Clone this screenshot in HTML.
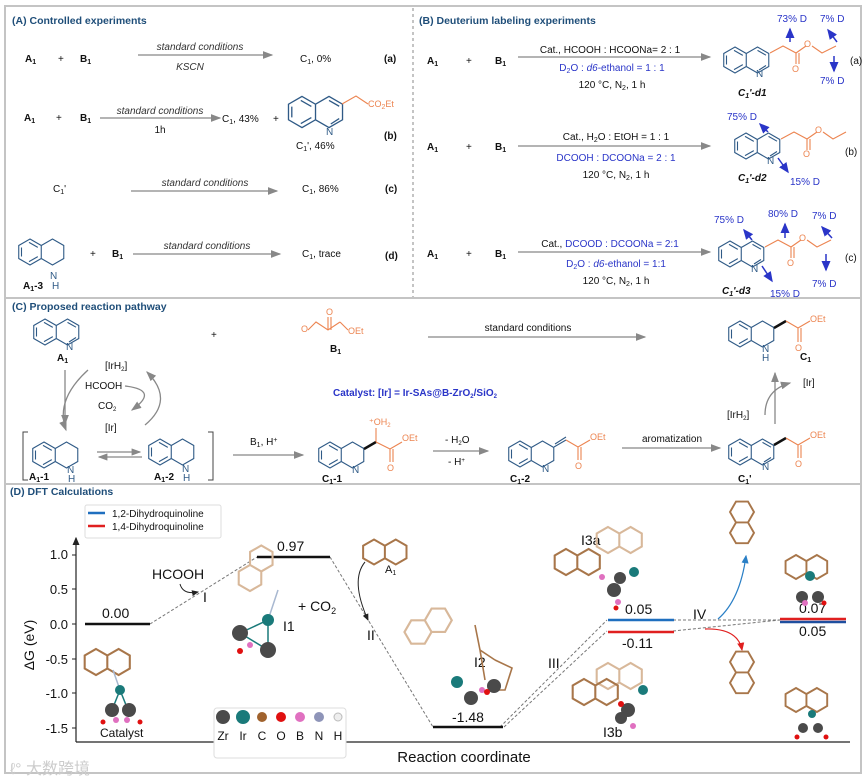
<!DOCTYPE html>
<html><head><meta charset="utf-8"><style>
html,body{margin:0;padding:0;background:#fff;}
svg{display:block;font-family:"Liberation Sans",Arial,sans-serif;}
.t{font-size:10px;fill:#111}
.tb{font-size:10px;fill:#111;font-weight:bold}
.ti{font-size:10px;fill:#333;font-style:italic}
.h{font-size:10.5px;font-weight:bold;fill:#1f4e79}
.bl{font-size:10px;fill:#2a35c8}
.or{font-size:9px;fill:#ec8450}
.st{fill:none;stroke:#2f5a86;stroke-width:1.1}
.so{fill:none;stroke:#ec8450;stroke-width:1.1}
.ar{stroke:#888;stroke-width:1.3;fill:none}
.br{fill:none;stroke:#a8764a;stroke-width:1.6}
.brl{fill:none;stroke:#d8b89a;stroke-width:1.6}
</style></head><body>
<svg width="868" height="779" viewBox="0 0 868 779" xmlns="http://www.w3.org/2000/svg">
<defs>
<marker id="ah" markerWidth="8" markerHeight="6" refX="7" refY="3" orient="auto"><path d="M0,0 L8,3 L0,6Z" fill="#888"/></marker>
<marker id="ahb" markerWidth="7" markerHeight="6" refX="6" refY="3" orient="auto"><path d="M0,0 L7,3 L0,6Z" fill="#2a35c8"/></marker>
<marker id="ahk" markerWidth="7" markerHeight="6" refX="6" refY="3" orient="auto"><path d="M0,0 L7,3 L0,6Z" fill="#222"/></marker>
<marker id="ahl" markerWidth="7" markerHeight="6" refX="6" refY="3" orient="auto"><path d="M0,0 L7,3 L0,6Z" fill="#2a7fc6"/></marker>
<marker id="ahr" markerWidth="7" markerHeight="6" refX="6" refY="3" orient="auto"><path d="M0,0 L7,3 L0,6Z" fill="#e02020"/></marker>
<g id="q"><path d="M0,-13 L11.26,-6.5 L11.26,6.5 L0,13 L-11.26,6.5 L-11.26,-6.5Z M11.26,-6.5 L22.5,-13 L33.77,-6.5 L33.77,6.5 L22.5,13 L11.26,6.5 M-8.5,-4.5 L-8.5,4.5 M-1,-9.6 L7.8,-4.6 M-1,9.6 L7.8,4.6 M22.5,-9.6 L31,-4.8 M24,10 L31,5.5"/></g>
<g id="thq"><path d="M0,-13 L11.26,-6.5 L11.26,6.5 L0,13 L-11.26,6.5 L-11.26,-6.5Z M11.26,-6.5 L22.5,-13 L33.77,-6.5 L33.77,6.5 L22.5,13 L11.26,6.5 M-8.5,-4.5 L-8.5,4.5 M-1,-9.6 L7.8,-4.6 M-1,9.6 L7.8,4.6"/></g>
<g id="mq"><path d="M0,-10 L8.7,-5 L8.7,5 L0,10 L-8.7,5 L-8.7,-5Z M8.7,-5 L17.4,-10 L26,-5 L26,5 L17.4,10 L8.7,5"/></g>
</defs>
<rect x="5" y="6" width="856" height="767" fill="none" stroke="#c4c4c4" stroke-width="2"/>
<line x1="5" y1="298" x2="861" y2="298" stroke="#c4c4c4" stroke-width="2"/>
<line x1="5" y1="484" x2="861" y2="484" stroke="#c4c4c4" stroke-width="2"/>
<line x1="413" y1="8" x2="413" y2="297" stroke="#888" stroke-width="1" stroke-dasharray="3,3"/>

<!-- Panel A -->
<text x="12" y="24" class="h">(A)  Controlled experiments</text>
<text x="25" y="62" class="tb">A<tspan font-size="7" dy="2">1</tspan></text>
<text x="58" y="62" class="t">+</text>
<text x="80" y="62" class="tb">B<tspan font-size="7" dy="2">1</tspan></text>
<line x1="138" y1="55" x2="272" y2="55" class="ar" marker-end="url(#ah)"/>
<text x="200" y="50" class="ti" text-anchor="middle">standard conditions</text>
<text x="190" y="70" class="ti" text-anchor="middle">KSCN</text>
<text x="300" y="62" class="t">C<tspan font-size="7" dy="2">1</tspan><tspan dy="-2">, 0%</tspan></text>
<text x="384" y="62" class="tb">(a)</text>

<text x="24" y="121" class="tb">A<tspan font-size="7" dy="2">1</tspan></text>
<text x="56" y="121" class="t">+</text>
<text x="80" y="121" class="tb">B<tspan font-size="7" dy="2">1</tspan></text>
<line x1="100" y1="118" x2="220" y2="118" class="ar" marker-end="url(#ah)"/>
<text x="160" y="114" class="ti" text-anchor="middle">standard conditions</text>
<text x="160" y="133" class="t" text-anchor="middle">1h</text>
<text x="222" y="122" class="t">C<tspan font-size="7" dy="2">1</tspan><tspan dy="-2">, 43%</tspan></text>
<text x="273" y="122" class="t">+</text>
<use href="#q" transform="translate(302,112) scale(1.2)" class="st"/>
<text x="326" y="135" class="t" style="fill:#2f5a86">N</text>
<path d="M342,104 L356,96 L368,104" class="so"/>
<text x="368" y="107" class="or" font-size="10">CO<tspan font-size="7" dy="2">2</tspan><tspan dy="-2">Et</tspan></text>
<text x="296" y="149" class="t">C<tspan font-size="7" dy="2">1</tspan><tspan dy="-2">', 46%</tspan></text>
<text x="384" y="139" class="tb">(b)</text>

<text x="53" y="192" class="t">C<tspan font-size="7" dy="2">1</tspan><tspan dy="-2">'</tspan></text>
<line x1="131" y1="191" x2="277" y2="191" class="ar" marker-end="url(#ah)"/>
<text x="205" y="186" class="ti" text-anchor="middle">standard conditions</text>
<text x="302" y="192" class="t">C<tspan font-size="7" dy="2">1</tspan><tspan dy="-2">, 86%</tspan></text>
<text x="385" y="192" class="tb">(c)</text>

<use href="#thq" transform="translate(30,252)" class="st"/>
<text x="50" y="279" class="t" style="fill:#2f5a86">N</text>
<text x="52" y="289" class="t" style="fill:#2f5a86">H</text>
<text x="23" y="289" class="tb">A<tspan font-size="7" dy="2">1</tspan><tspan dy="-2">-3</tspan></text>
<text x="90" y="257" class="t">+</text>
<text x="112" y="257" class="tb">B<tspan font-size="7" dy="2">1</tspan></text>
<line x1="133" y1="254" x2="280" y2="254" class="ar" marker-end="url(#ah)"/>
<text x="207" y="249" class="ti" text-anchor="middle">standard conditions</text>
<text x="302" y="257" class="t">C<tspan font-size="7" dy="2">1</tspan><tspan dy="-2">, trace</tspan></text>
<text x="385" y="259" class="tb">(d)</text>

<!-- Panel B -->
<text x="419" y="24" class="h">(B) Deuterium labeling experiments</text>
<g font-size="11">
<text x="427" y="64" class="tb">A<tspan font-size="7" dy="2">1</tspan></text>
<text x="466" y="64" class="t">+</text>
<text x="495" y="64" class="tb">B<tspan font-size="7" dy="2">1</tspan></text>
<line x1="518" y1="57" x2="710" y2="57" class="ar" marker-end="url(#ah)"/>
<text x="610" y="53" class="t" font-size="11" text-anchor="middle">Cat., HCOOH : HCOONa= 2 : 1</text>
<text x="612" y="71" class="bl" font-size="11" text-anchor="middle">D<tspan font-size="7" dy="2">2</tspan><tspan dy="-2">O : </tspan><tspan font-style="italic">d6</tspan>-ethanol = 1 : 1</text>
<text x="612" y="88" class="t" font-size="11" text-anchor="middle">120 °C, N<tspan font-size="7" dy="2">2</tspan><tspan dy="-2">, 1 h</tspan></text>
<use href="#q" transform="translate(735,60)" class="st"/>
<text x="756" y="77" class="t" style="fill:#2f5a86">N</text>
<path d="M770,53 L783,46 L796,53 L796,64 M799,53 L799,64 M796,53 L806,46 M812,46 L822,53 L836,46" class="so"/>
<text x="792" y="72" class="or">O</text><text x="804" y="47" class="or">O</text>
<text x="738" y="96" class="tb" font-style="italic">C<tspan font-size="7" dy="2">1</tspan><tspan dy="-2">'-d1</tspan></text>
<text x="777" y="22" class="bl">73% D</text><text x="820" y="22" class="bl">7% D</text>
<text x="820" y="84" class="bl">7% D</text>
<line x1="790" y1="42" x2="790" y2="29" stroke="#2a35c8" stroke-width="1.5" marker-end="url(#ahb)"/>
<line x1="837" y1="42" x2="828" y2="30" stroke="#2a35c8" stroke-width="1.5" marker-end="url(#ahb)"/>
<line x1="834" y1="56" x2="834" y2="71" stroke="#2a35c8" stroke-width="1.5" marker-end="url(#ahb)"/>
<text x="850" y="64" class="t">(a)</text>

<text x="427" y="150" class="tb">A<tspan font-size="7" dy="2">1</tspan></text>
<text x="466" y="150" class="t">+</text>
<text x="495" y="150" class="tb">B<tspan font-size="7" dy="2">1</tspan></text>
<line x1="518" y1="146" x2="710" y2="146" class="ar" marker-end="url(#ah)"/>
<text x="616" y="140" class="t" font-size="11" text-anchor="middle">Cat., H<tspan font-size="7" dy="2">2</tspan><tspan dy="-2">O : EtOH = 1 : 1</tspan></text>
<text x="616" y="161" class="bl" font-size="11" text-anchor="middle">DCOOH : DCOONa = 2 : 1</text>
<text x="616" y="178" class="t" font-size="11" text-anchor="middle">120 °C, N<tspan font-size="7" dy="2">2</tspan><tspan dy="-2">, 1 h</tspan></text>
<use href="#q" transform="translate(746,146)" class="st"/>
<text x="767" y="164" class="t" style="fill:#2f5a86">N</text>
<path d="M781,139 L794,132 L807,139 L807,150 M810,139 L810,150 M807,139 L817,132 M823,132 L833,139 L846,132" class="so"/>
<text x="803" y="157" class="or">O</text><text x="815" y="133" class="or">O</text>
<text x="738" y="181" class="tb" font-style="italic">C<tspan font-size="7" dy="2">1</tspan><tspan dy="-2">'-d2</tspan></text>
<text x="727" y="120" class="bl">75% D</text>
<text x="790" y="185" class="bl">15% D</text>
<line x1="768" y1="132" x2="760" y2="124" stroke="#2a35c8" stroke-width="1.5" marker-end="url(#ahb)"/>
<line x1="778" y1="158" x2="788" y2="172" stroke="#2a35c8" stroke-width="1.5" marker-end="url(#ahb)"/>
<text x="845" y="155" class="t">(b)</text>

<text x="427" y="257" class="tb">A<tspan font-size="7" dy="2">1</tspan></text>
<text x="466" y="257" class="t">+</text>
<text x="495" y="257" class="tb">B<tspan font-size="7" dy="2">1</tspan></text>
<line x1="518" y1="252" x2="710" y2="252" class="ar" marker-end="url(#ah)"/>
<text x="610" y="247" class="t" font-size="11" text-anchor="middle">Cat., <tspan fill="#2a35c8">DCOOD : DCOONa = 2:1</tspan></text>
<text x="616" y="267" class="bl" font-size="11" text-anchor="middle">D<tspan font-size="7" dy="2">2</tspan><tspan dy="-2">O : </tspan><tspan font-style="italic">d6</tspan>-ethanol = 1:1</text>
<text x="616" y="284" class="t" font-size="11" text-anchor="middle">120 °C, N<tspan font-size="7" dy="2">2</tspan><tspan dy="-2">, 1 h</tspan></text>
<use href="#q" transform="translate(730,254)" class="st"/>
<text x="751" y="272" class="t" style="fill:#2f5a86">N</text>
<path d="M765,247 L778,240 L791,247 L791,258 M794,247 L794,258 M791,247 L801,240 M807,240 L817,247 L831,240" class="so"/>
<text x="787" y="266" class="or">O</text><text x="799" y="241" class="or">O</text>
<text x="722" y="294" class="tb" font-style="italic">C<tspan font-size="7" dy="2">1</tspan><tspan dy="-2">'-d3</tspan></text>
<text x="714" y="223" class="bl">75% D</text><text x="768" y="217" class="bl">80% D</text><text x="812" y="219" class="bl">7% D</text>
<text x="770" y="297" class="bl">15% D</text><text x="812" y="287" class="bl">7% D</text>
<line x1="752" y1="240" x2="744" y2="230" stroke="#2a35c8" stroke-width="1.5" marker-end="url(#ahb)"/>
<line x1="785" y1="238" x2="785" y2="224" stroke="#2a35c8" stroke-width="1.5" marker-end="url(#ahb)"/>
<line x1="832" y1="238" x2="822" y2="227" stroke="#2a35c8" stroke-width="1.5" marker-end="url(#ahb)"/>
<line x1="762" y1="266" x2="772" y2="281" stroke="#2a35c8" stroke-width="1.5" marker-end="url(#ahb)"/>
<line x1="826" y1="254" x2="826" y2="270" stroke="#2a35c8" stroke-width="1.5" marker-end="url(#ahb)"/>
<text x="845" y="261" class="t">(c)</text>
</g>

<!-- Panel C -->
<text x="12" y="310" class="h">(C) Proposed reaction pathway</text>
<use href="#q" transform="translate(45,332)" class="st"/>
<text x="66" y="350" class="t" style="fill:#2f5a86">N</text>
<text x="57" y="361" class="tb">A<tspan font-size="7" dy="2">1</tspan></text>
<text x="211" y="338" class="t">+</text>
<path d="M308,330 L316,322 L328,330 L340,322 M328,330 L328,317 M331,330 L331,317 M340,322 L348,330" class="so"/>
<text x="301" y="332" class="or">O</text><text x="326" y="315" class="or">O</text><text x="348" y="334" class="or">OEt</text>
<text x="330" y="352" class="tb">B<tspan font-size="7" dy="2">1</tspan></text>
<line x1="428" y1="337" x2="645" y2="337" class="ar" marker-end="url(#ah)"/>
<text x="528" y="331" class="t" font-size="9.5" text-anchor="middle">standard conditions</text>
<use href="#thq" transform="translate(740,334)" class="st"/>
<text x="762" y="352" class="t" style="fill:#2f5a86">N</text><text x="762" y="361" class="t" style="fill:#2f5a86">H</text>
<path d="M774,328 L786,321" stroke="#111" stroke-width="2.5"/>
<path d="M786,321 L798,328 L810,321 M798,328 L798,342 M801,328 L801,342" class="so"/>
<text x="810" y="322" class="or">OEt</text><text x="795" y="351" class="or">O</text>
<text x="800" y="360" class="tb">C<tspan font-size="7" dy="2">1</tspan></text>
<text x="415" y="396" class="tb" style="fill:#2a35c8" font-size="9" text-anchor="middle">Catalyst: [Ir] = Ir-SAs@B-ZrO<tspan font-size="6" dy="2">2</tspan><tspan dy="-2">/SiO</tspan><tspan font-size="6" dy="2">2</tspan></text>
<text x="105" y="369" class="t" font-size="9">[IrH<tspan font-size="6" dy="2">2</tspan><tspan dy="-2">]</tspan></text>
<text x="85" y="389" class="t" font-size="9">HCOOH</text>
<text x="98" y="409" class="t" font-size="9">CO<tspan font-size="6" dy="2">2</tspan></text>
<text x="105" y="431" class="t" font-size="9">[Ir]</text>
<path d="M88,370 Q55,400 66,430" class="ar" marker-end="url(#ah)"/>
<path d="M65,370 L65,424" class="ar" marker-end="url(#ah)"/>
<path d="M145,425 Q175,400 147,372" class="ar" marker-end="url(#ah)"/>
<path d="M125,386 Q160,390 132,410" class="ar" marker-end="url(#ah)"/>
<path d="M28,432 L23,432 L23,480 L28,480 M208,432 L213,432 L213,480 L208,480" stroke="#444" fill="none"/>
<use href="#thq" transform="translate(44,455)" class="st"/>
<text x="67" y="473" class="t" style="fill:#2f5a86">N</text><text x="68" y="482" class="t" style="fill:#2f5a86">H</text>
<text x="29" y="480" class="tb">A<tspan font-size="7" dy="2">1</tspan><tspan dy="-2">-1</tspan></text>
<line x1="97" y1="452" x2="140" y2="452" stroke="#888" stroke-width="1.2" marker-end="url(#ah)"/>
<line x1="142" y1="457" x2="99" y2="457" stroke="#888" stroke-width="1.2" marker-end="url(#ah)"/>
<use href="#thq" transform="translate(160,452)" class="st"/>
<text x="182" y="472" class="t" style="fill:#2f5a86">N</text><text x="183" y="481" class="t" style="fill:#2f5a86">H</text>
<text x="154" y="480" class="tb">A<tspan font-size="7" dy="2">1</tspan><tspan dy="-2">-2</tspan></text>
<line x1="233" y1="455" x2="303" y2="455" class="ar" marker-end="url(#ah)"/>
<text x="250" y="445" class="t">B<tspan font-size="7" dy="2">1</tspan><tspan dy="-2">, H</tspan><tspan font-size="7" dy="-3">+</tspan></text>
<use href="#thq" transform="translate(330,455)" class="st"/>
<text x="352" y="473" class="t" style="fill:#2f5a86">N</text>
<path d="M364,449 L376,442" stroke="#111" stroke-width="2.5"/>
<path d="M376,442 L376,428 M376,442 L390,449 L402,442 M390,449 L390,462 M393,449 L393,462" class="so"/>
<text x="369" y="425" class="or">⁺OH<tspan font-size="6" dy="2">2</tspan></text>
<text x="402" y="441" class="or">OEt</text><text x="387" y="471" class="or">O</text>
<text x="322" y="482" class="tb">C<tspan font-size="7" dy="2">1</tspan><tspan dy="-2">-1</tspan></text>
<line x1="433" y1="451" x2="488" y2="451" class="ar" marker-end="url(#ah)"/>
<text x="445" y="443" class="t" font-size="9">- H<tspan font-size="6" dy="2">2</tspan><tspan dy="-2">O</tspan></text>
<text x="448" y="465" class="t" font-size="9">- H<tspan font-size="6" dy="-3">+</tspan></text>
<use href="#thq" transform="translate(520,454)" class="st"/>
<text x="542" y="472" class="t" style="fill:#2f5a86">N</text>
<path d="M554,447 L566,440 M555,444 L566,437" stroke="#2f5a86" stroke-width="1.1"/>
<path d="M566,440 L578,447 L590,440 M578,447 L578,460 M581,447 L581,460" class="so"/>
<text x="590" y="440" class="or">OEt</text><text x="575" y="469" class="or">O</text>
<text x="510" y="482" class="tb">C<tspan font-size="7" dy="2">1</tspan><tspan dy="-2">-2</tspan></text>
<line x1="622" y1="448" x2="720" y2="448" class="ar" marker-end="url(#ah)"/>
<text x="672" y="442" class="t" font-size="9" text-anchor="middle">aromatization</text>
<use href="#q" transform="translate(740,452)" class="st"/>
<text x="762" y="470" class="t" style="fill:#2f5a86">N</text>
<path d="M774,445 L786,438" stroke="#111" stroke-width="2.5"/>
<path d="M786,438 L798,445 L810,438 M798,445 L798,458 M801,445 L801,458" class="so"/>
<text x="810" y="438" class="or">OEt</text><text x="795" y="467" class="or">O</text>
<text x="738" y="482" class="tb">C<tspan font-size="7" dy="2">1</tspan><tspan dy="-2">'</tspan></text>
<line x1="775" y1="424" x2="775" y2="373" class="ar" marker-end="url(#ah)"/>
<path d="M765,415 Q765,390 790,383" class="ar" marker-end="url(#ah)"/>
<text x="727" y="418" class="t" font-size="9">[IrH<tspan font-size="6" dy="2">2</tspan><tspan dy="-2">]</tspan></text>
<text x="803" y="386" class="t" font-size="9">[Ir]</text>

<!-- Panel D -->
<text x="10" y="495" class="h" font-size="10">(D) DFT Calculations</text>
<rect x="85" y="505" width="136" height="33" rx="2" fill="#fff" stroke="#ddd"/>
<line x1="88" y1="513" x2="105" y2="513" stroke="#1f6fbf" stroke-width="2.5"/>
<line x1="88" y1="526" x2="105" y2="526" stroke="#e02020" stroke-width="2.5"/>
<text x="112" y="517" class="t" font-size="10">1,2-Dihydroquinoline</text>
<text x="112" y="530" class="t" font-size="10">1,4-Dihydroquinoline</text>
<line x1="76" y1="742" x2="76" y2="538" stroke="#222" stroke-width="1.2" marker-end="url(#ahk)"/>
<line x1="76" y1="742" x2="850" y2="742" stroke="#222" stroke-width="1.2"/>
<g font-size="13" fill="#111" text-anchor="end">
<text x="68" y="559">1.0</text><text x="68" y="594">0.5</text><text x="68" y="629">0.0</text>
<text x="68" y="664">-0.5</text><text x="68" y="698">-1.0</text><text x="68" y="733">-1.5</text>
</g>
<g stroke="#222"><line x1="72" y1="555" x2="76" y2="555"/><line x1="72" y1="589" x2="76" y2="589"/><line x1="72" y1="624" x2="76" y2="624"/><line x1="72" y1="659" x2="76" y2="659"/><line x1="72" y1="693" x2="76" y2="693"/><line x1="72" y1="728" x2="76" y2="728"/></g>
<text transform="translate(34,645) rotate(-90)" font-size="14" fill="#111" text-anchor="middle">ΔG (eV)</text>
<text x="464" y="762" font-size="15" fill="#111" text-anchor="middle">Reaction coordinate</text>
<g stroke="#777" stroke-width="1" stroke-dasharray="3,2" fill="none">
<line x1="150" y1="624" x2="257" y2="557"/><line x1="330" y1="557" x2="433" y2="727"/>
<line x1="500" y1="727" x2="607" y2="620"/><line x1="504" y1="727" x2="607" y2="631"/>
<line x1="673" y1="620" x2="780" y2="620"/><line x1="673" y1="631" x2="780" y2="620"/>
</g>
<g stroke-width="2.6">
<line x1="85" y1="624" x2="150" y2="624" stroke="#111"/>
<line x1="257" y1="557" x2="330" y2="557" stroke="#111"/>
<line x1="433" y1="727" x2="503" y2="727" stroke="#111"/>
<line x1="608" y1="620" x2="674" y2="620" stroke="#1f6fbf"/>
<line x1="608" y1="632" x2="674" y2="632" stroke="#e02020"/>
<line x1="780" y1="619" x2="846" y2="619" stroke="#e02020"/>
<line x1="780" y1="622" x2="846" y2="622" stroke="#1f4f9f"/>
</g>
<g font-size="14" fill="#111">
<text x="102" y="618">0.00</text><text x="277" y="551">0.97</text><text x="452" y="722">-1.48</text>
<text x="625" y="614">0.05</text><text x="622" y="648">-0.11</text>
<text x="799" y="613">0.07</text><text x="799" y="636">0.05</text>
<text x="152" y="579">HCOOH</text><text x="203" y="602">I</text>
<text x="367" y="640">II</text><text x="548" y="668">III</text><text x="693" y="619">IV</text>
<text x="283" y="631">I1</text><text x="298" y="611">+ CO<tspan font-size="9" dy="3">2</tspan></text>
<text x="474" y="667">I2</text><text x="581" y="545">I3a</text><text x="603" y="737">I3b</text>
<text x="385" y="573" font-size="11">A<tspan font-size="7" dy="2">1</tspan></text>
</g>
<path d="M180,584 Q183,595 198,592" stroke="#222" fill="none" marker-end="url(#ahk)"/>
<path d="M365,562 Q350,580 368,620" stroke="#222" fill="none" marker-end="url(#ahk)"/>
<path d="M718,619 Q740,600 746,556" stroke="#2a7fc6" stroke-width="1.2" fill="none" marker-end="url(#ahl)"/>
<path d="M705,629 Q738,628 742,650" stroke="#e02020" stroke-width="1.2" fill="none" marker-end="url(#ahr)"/>
<text x="100" y="737" font-size="12" fill="#111">Catalyst</text>
<!-- molecules -->
<use href="#mq" transform="translate(96,662) scale(1.3)" class="br"/>
<line x1="113" y1="670" x2="120" y2="690" stroke="#a8b8d0" stroke-width="1.5"/>
<line x1="120" y1="690" x2="112" y2="710" stroke="#1a7a7a" stroke-width="1.5"/>
<line x1="120" y1="690" x2="128" y2="710" stroke="#1a7a7a" stroke-width="1.5"/>
<circle cx="120" cy="690" r="5" fill="#1a7a7a"/><circle cx="112" cy="710" r="7" fill="#4a4a4a"/><circle cx="129" cy="710" r="7" fill="#4a4a4a"/>
<circle cx="116" cy="720" r="3" fill="#e070c0"/><circle cx="127" cy="720" r="3" fill="#e070c0"/><circle cx="103" cy="722" r="2.5" fill="#e01010"/><circle cx="140" cy="722" r="2.5" fill="#e01010"/>
<use href="#mq" transform="translate(250,578) scale(1.3) rotate(-60)" class="brl"/>
<line x1="278" y1="590" x2="268" y2="620" stroke="#a8b8d0" stroke-width="1.5"/>
<path d="M240,633 L268,620 L268,650 Z" stroke="#1a7a7a" fill="none" stroke-width="1.5"/>
<circle cx="268" cy="620" r="6" fill="#1a7a7a"/><circle cx="240" cy="633" r="8" fill="#4a4a4a"/><circle cx="268" cy="650" r="8" fill="#4a4a4a"/>
<circle cx="250" cy="645" r="3" fill="#e070c0"/><circle cx="240" cy="651" r="3" fill="#e01010"/>
<use href="#mq" transform="translate(374,552) scale(1.25)" class="br"/>
<use href="#mq" transform="translate(418,632) scale(1.35) rotate(-30)" class="brl"/>
<path d="M475,625 L480,650 L495,660 M480,650 L485,680 M495,660 L512,668 L505,690 L490,690" class="br"/>
<circle cx="457" cy="682" r="6" fill="#1a7a7a"/><circle cx="471" cy="698" r="7" fill="#4a4a4a"/><circle cx="494" cy="686" r="7" fill="#4a4a4a"/>
<circle cx="482" cy="690" r="3" fill="#e070c0"/><circle cx="487" cy="692" r="3" fill="#e01010"/>
<use href="#mq" transform="translate(608,540) scale(1.3)" class="brl"/>
<use href="#mq" transform="translate(566,562) scale(1.3)" class="br"/>
<circle cx="634" cy="572" r="5" fill="#1a7a7a"/><circle cx="620" cy="578" r="6" fill="#4a4a4a"/><circle cx="614" cy="590" r="7" fill="#4a4a4a"/>
<circle cx="602" cy="577" r="3" fill="#e070c0"/><circle cx="618" cy="602" r="3" fill="#e070c0"/><circle cx="616" cy="608" r="2.5" fill="#e01010"/>
<use href="#mq" transform="translate(742,512) scale(1.2) rotate(90)" class="br"/>
<use href="#mq" transform="translate(796,567) scale(1.2)" class="br"/>
<circle cx="810" cy="576" r="5" fill="#1a7a7a"/><circle cx="802" cy="597" r="6" fill="#4a4a4a"/><circle cx="818" cy="597" r="6" fill="#4a4a4a"/>
<circle cx="805" cy="603" r="3" fill="#e070c0"/><circle cx="824" cy="603" r="2.5" fill="#e01010"/>
<use href="#mq" transform="translate(608,676) scale(1.3)" class="brl"/>
<use href="#mq" transform="translate(584,692) scale(1.3)" class="br"/>
<circle cx="643" cy="690" r="5" fill="#1a7a7a"/><circle cx="628" cy="710" r="7" fill="#4a4a4a"/><circle cx="621" cy="718" r="6" fill="#4a4a4a"/>
<circle cx="621" cy="704" r="3" fill="#e01010"/><circle cx="633" cy="726" r="3" fill="#e070c0"/>
<use href="#mq" transform="translate(742,662) scale(1.2) rotate(90)" class="br"/>
<use href="#mq" transform="translate(796,700) scale(1.2)" class="br"/>
<circle cx="812" cy="714" r="4" fill="#1a7a7a"/><circle cx="803" cy="728" r="5" fill="#4a4a4a"/><circle cx="818" cy="728" r="5" fill="#4a4a4a"/>
<circle cx="797" cy="737" r="2.5" fill="#e01010"/><circle cx="826" cy="737" r="2.5" fill="#e01010"/>
<rect x="214" y="708" width="132" height="50" rx="3" fill="#fff" stroke="#ddd"/>
<circle cx="223" cy="717" r="7" fill="#4a4a4a"/><circle cx="243" cy="717" r="7" fill="#1a7a7a"/><circle cx="262" cy="717" r="5" fill="#a0622d"/>
<circle cx="281" cy="717" r="5" fill="#e01010"/><circle cx="300" cy="717" r="5" fill="#e070c0"/><circle cx="319" cy="717" r="5" fill="#8e94b8"/><circle cx="338" cy="717" r="4" fill="#eee" stroke="#bbb"/>
<g font-size="12" fill="#111" text-anchor="middle"><text x="223" y="740">Zr</text><text x="243" y="740">Ir</text><text x="262" y="740">C</text><text x="281" y="740">O</text><text x="300" y="740">B</text><text x="319" y="740">N</text><text x="338" y="740">H</text></g>
<text x="10" y="774" font-size="16" fill="#ccc" font-family="'Liberation Sans','Noto Sans CJK SC',sans-serif">ℓ° 大数跨境</text>
</svg>
</body></html>
